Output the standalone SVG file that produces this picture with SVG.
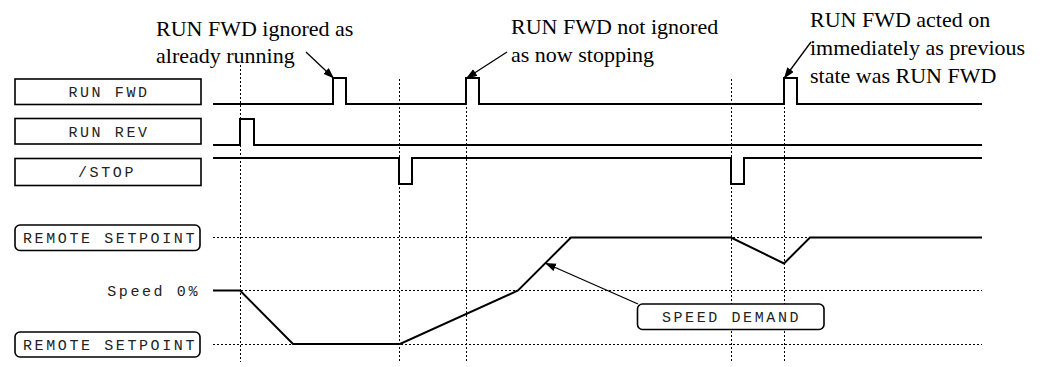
<svg xmlns="http://www.w3.org/2000/svg" width="1042" height="367" viewBox="0 0 1042 367">
<defs>
<marker id="ah" markerUnits="userSpaceOnUse" markerWidth="12" markerHeight="10" refX="11" refY="4" orient="auto">
<path d="M0,0 L11,4 L0,8 Z" fill="#000"/>
</marker>
</defs>
<style>
.box{fill:#fff;stroke:#000;stroke-width:1.6}
.mono{font-family:"Liberation Mono",monospace;font-size:15px;letter-spacing:2.6px;fill:#222}
.serif{font-family:"Liberation Serif",serif;font-size:22px;fill:#000}
.grid{stroke:#000;stroke-width:1;stroke-dasharray:2 2;fill:none}
.trace{stroke:#000;stroke-width:2;fill:none;stroke-linejoin:miter}
.arrow{stroke:#000;stroke-width:1.3;fill:none;marker-end:url(#ah)}
</style>
<rect width="1042" height="367" fill="#fff"/>
<g id="grid">
<line class="grid" x1="240.5" y1="65" x2="240.5" y2="362"/>
<line class="grid" x1="399.5" y1="79" x2="399.5" y2="362"/>
<line class="grid" x1="466.5" y1="79" x2="466.5" y2="362"/>
<line class="grid" x1="731.5" y1="79" x2="731.5" y2="362"/>
<line class="grid" x1="784.5" y1="79" x2="784.5" y2="362"/>
<line class="grid" x1="213" y1="237.5" x2="982" y2="237.5"/>
<line class="grid" x1="213" y1="290.5" x2="982" y2="290.5"/>
<line class="grid" x1="213" y1="344.5" x2="982" y2="344.5"/>
</g>
<g id="traces">
<polyline class="trace" points="213,104 333,104 333,78 346,78 346,104 466,104 466,78 479,78 479,104 784,104 784,78 797,78 797,104 982,104"/>
<polyline class="trace" points="213,145 240,145 240,119 254,119 254,145 982,145"/>
<polyline class="trace" points="213,158 399,158 399,184 412,184 412,158 731,158 731,184 744,184 744,158 982,158"/>
<polyline class="trace" points="213,290.5 240,290.5 293,344 400,344 518,290.5 571,237.5 731,237.5 784,263.5 810,237.5 982,237.5"/>
</g>
<g id="node-run-fwd">
<rect class="box" x="15" y="79" width="186" height="25.5"/>
<text class="mono" x="109" y="97" text-anchor="middle">RUN FWD</text>
</g>
<g id="node-run-rev">
<rect class="box" x="15" y="118.5" width="186" height="25.5"/>
<text class="mono" x="109" y="136.5" text-anchor="middle">RUN REV</text>
</g>
<g id="node-stop">
<rect class="box" x="15" y="158.5" width="186" height="27"/>
<text class="mono" x="107" y="177" text-anchor="middle">/STOP</text>
</g>
<g id="node-remote-setpoint-top">
<rect class="box" x="15" y="225" width="185" height="25.5" rx="5"/>
<text class="mono" x="110" y="243" text-anchor="middle">REMOTE SETPOINT</text>
</g>
<g id="node-speed-0">
<text class="mono" x="200" y="296" text-anchor="end">Speed 0%</text>
</g>
<g id="node-remote-setpoint-bottom">
<rect class="box" x="15" y="332" width="185" height="25" rx="5"/>
<text class="mono" x="110" y="349.5" text-anchor="middle">REMOTE SETPOINT</text>
</g>
<g id="node-speed-demand">
<rect class="box" x="637.5" y="304" width="186.5" height="25.5" rx="5"/>
<text class="mono" x="731.5" y="322" text-anchor="middle">SPEED DEMAND</text>
</g>
<g id="note-ignored">
<text class="serif" x="156" y="36">RUN FWD ignored as</text>
<text class="serif" x="156" y="63">already running</text>
</g>
<g id="note-not-ignored">
<text class="serif" x="511" y="34">RUN FWD not ignored</text>
<text class="serif" x="511" y="62">as now stopping</text>
</g>
<g id="note-acted-on">
<text class="serif" x="810" y="27">RUN FWD acted on</text>
<text class="serif" x="810" y="54.5">immediately as previous</text>
<text class="serif" x="810" y="82.5">state was RUN FWD</text>
</g>
<g id="connectors">
<line class="arrow" x1="306" y1="52" x2="334" y2="78.5"/>
<line class="arrow" x1="507" y1="52" x2="466" y2="78.5"/>
<line class="arrow" x1="811" y1="42" x2="784" y2="78.5"/>
<line class="arrow" x1="638" y1="304" x2="545" y2="263"/>
</g>
</svg>
